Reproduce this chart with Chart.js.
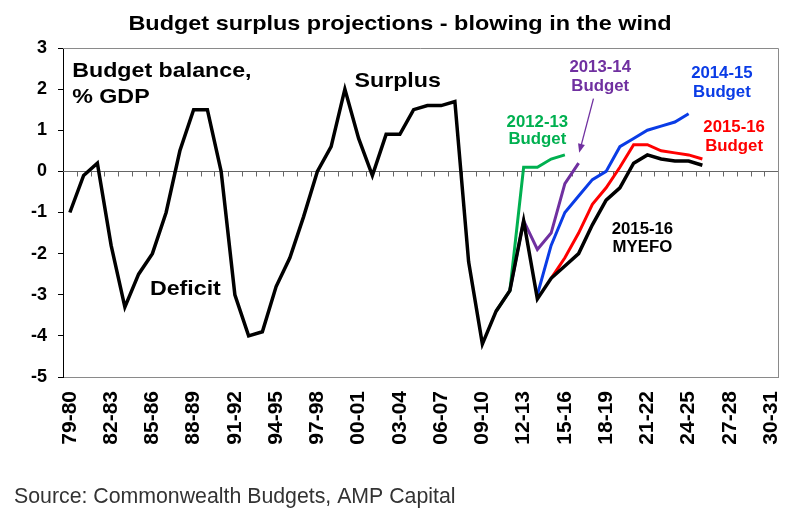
<!DOCTYPE html>
<html>
<head>
<meta charset="utf-8">
<script src="https://cdn.jsdelivr.net/npm/chart.js@4.4.1/dist/chart.umd.min.js"></script>
<style>
html,body{margin:0;padding:0;background:#fff;}
#wrap{width:800px;height:522px;}
</style>
</head>
<body>
<div id="wrap"><canvas id="c" width="800" height="522"></canvas></div>
<script>
// ---------- DATA ----------
const categories = ['79-80','80-81','81-82','82-83','83-84','84-85','85-86','86-87','87-88','88-89',
  '89-90','90-91','91-92','92-93','93-94','94-95','95-96','96-97','97-98','98-99','99-00',
  '00-01','01-02','02-03','03-04','04-05','05-06','06-07','07-08','08-09','09-10','10-11',
  '11-12','12-13','13-14','14-15','15-16','16-17','17-18','18-19','19-20','20-21','21-22',
  '22-23','23-24','24-25','25-26','26-27','27-28','28-29','29-30','30-31'];

// Actual outcomes then 2015-16 MYEFO projections (starts 79-80)
const actualMyefoStart = '79-80';
const actualMyefo = [-1.0,-0.1,0.2,-1.8,-3.3,-2.5,-2.0,-1.0,0.5,1.5,1.5,0.0,-3.0,-4.0,-3.9,-2.8,
  -2.1,-1.1,0.0,0.6,2.0,0.8,-0.1,0.9,0.9,1.5,1.6,1.6,1.7,-2.2,-4.2,-3.4,-2.9,-1.2,-3.1,-2.6,
  -2.3,-2.0,-1.3,-0.7,-0.4,0.2,0.4,0.3,0.25,0.25,0.15];

const budget1213Start = '10-11';
const budget1213 = [-3.4,-2.9,0.1,0.1,0.3,0.4];

const budget1314Start = '11-12';
const budget1314 = [-2.9,-1.2,-1.9,-1.5,-0.3,0.2];

const budget1415Start = '13-14';
const budget1415 = [-3.0,-1.8,-1.0,-0.6,-0.2,0.0,0.6,0.8,1.0,1.1,1.2,1.4];

const budget1516Start = '14-15';
const budget1516 = [-2.6,-2.1,-1.5,-0.8,-0.4,0.1,0.65,0.65,0.5,0.45,0.4,0.3];

const yMin = -5, yMax = 3, yStep = 1;
const xLabelEvery = 3;

// ---------- helpers ----------
function series(start, values) {
  const s = categories.indexOf(start);
  return values.map((v, i) => ({ x: categories[s + i], y: v }));
}

const FONT = '"Liberation Sans", Arial, Helvetica, sans-serif';

function sText(ctx, txt, x, y, size, color, align, weight, sx) {
  ctx.save();
  ctx.font = (weight || 'bold') + ' ' + size + 'px ' + FONT;
  ctx.fillStyle = color;
  ctx.textBaseline = 'alphabetic';
  ctx.textAlign = 'left';
  sx = sx || 1;
  const w = ctx.measureText(txt).width * sx;
  const left = align === 'left' ? x : (align === 'center' ? x - w / 2 : x - w);
  ctx.translate(left, y);
  ctx.scale(sx, 1);
  ctx.fillText(txt, 0, 0);
  ctx.restore();
}

// annotation placements (category index, value) – positioned via the chart scales
const notes = [
  { lines: ['Budget balance,', '% GDP'], cat: 0.17, vals: [2.30, 1.67], color: '#000', align: 'left', size: 20.2, sx: 1.15 },
  { lines: ['Surplus'], cat: 23.84, vals: [2.05], color: '#000', align: 'center', size: 20.2, sx: 1.15 },
  { lines: ['Deficit'], cat: 8.4, vals: [-3.0], color: '#000', align: 'center', size: 20.2, sx: 1.15 },
  { lines: ['2012-13', 'Budget'], cat: 34.0, vals: [1.09, 0.67], color: '#00B050', align: 'center', size: 16.3, sx: 1.03 },
  { lines: ['2013-14', 'Budget'], cat: 38.57, vals: [2.41, 1.96], color: '#7030A0', align: 'center', size: 16.3, sx: 1.03 },
  { lines: ['2014-15', 'Budget'], cat: 47.42, vals: [2.26, 1.80], color: '#0A3CE6', align: 'center', size: 16.3, sx: 1.03 },
  { lines: ['2015-16', 'Budget'], cat: 48.31, vals: [0.95, 0.49], color: '#FF0000', align: 'center', size: 16.3, sx: 1.03 },
  { lines: ['2015-16', 'MYEFO'], cat: 41.64, vals: [-1.52, -1.95], color: '#000', align: 'center', size: 16.3, sx: 1.03 }
];
const arrowNote = { from: [38.08, 1.77], to: [37.04, 0.45], color: '#7030A0' };

const decor = {
  id: 'decor',
  beforeDatasetsDraw(chart) {
    const { ctx, chartArea: a, scales: { x, y } } = chart;
    ctx.save();
    ctx.strokeStyle = '#8a8a8a';
    ctx.lineWidth = 1;
    ctx.beginPath();
    ctx.moveTo(a.left, Math.round(a.top) + 0.5);
    ctx.lineTo(Math.round(a.right) + 0.5, Math.round(a.top) + 0.5);
    ctx.lineTo(Math.round(a.right) + 0.5, a.bottom);
    ctx.stroke();
    const y0 = Math.round(y.getPixelForValue(0)) + 0.5;
    ctx.strokeStyle = '#666';
    ctx.beginPath();
    ctx.moveTo(a.left, y0);
    ctx.lineTo(a.right, y0);
    for (let i = 0; i < categories.length - 1; i++) {
      const xb = Math.round((x.getPixelForValue(i) + x.getPixelForValue(i + 1)) / 2) + 0.5;
      ctx.moveTo(xb, y0);
      ctx.lineTo(xb, y0 + 5);
    }
    ctx.stroke();
    ctx.restore();
  },
  afterDatasetsDraw(chart) {
    const { ctx, scales: { x, y } } = chart;
    const px = c => x.getPixelForValue(0) + c * (x.getPixelForValue(1) - x.getPixelForValue(0));
    notes.forEach(n => {
      n.lines.forEach((t, i) => sText(ctx, t, px(n.cat), y.getPixelForValue(n.vals[i]), n.size, n.color, n.align, 'bold', n.sx));
    });
    const x1 = px(arrowNote.from[0]), y1 = y.getPixelForValue(arrowNote.from[1]);
    const x2 = px(arrowNote.to[0]), y2 = y.getPixelForValue(arrowNote.to[1]);
    const ang = Math.atan2(y2 - y1, x2 - x1);
    ctx.save();
    ctx.strokeStyle = arrowNote.color;
    ctx.fillStyle = arrowNote.color;
    ctx.lineWidth = 1.3;
    ctx.beginPath();
    ctx.moveTo(x1, y1);
    ctx.lineTo(x2 - 6 * Math.cos(ang), y2 - 6 * Math.sin(ang));
    ctx.stroke();
    ctx.beginPath();
    ctx.moveTo(x2, y2);
    ctx.lineTo(x2 - 9 * Math.cos(ang) + 3.5 * Math.sin(ang), y2 - 9 * Math.sin(ang) - 3.5 * Math.cos(ang));
    ctx.lineTo(x2 - 9 * Math.cos(ang) - 3.5 * Math.sin(ang), y2 - 9 * Math.sin(ang) + 3.5 * Math.cos(ang));
    ctx.closePath();
    ctx.fill();
    ctx.restore();
  },
  afterDraw(chart) {
    const { ctx } = chart;
    sText(ctx, 'Budget surplus projections - blowing in the wind', 400, 30, 20.4, '#000', 'center', 'bold', 1.15);
    sText(ctx, 'Source: Commonwealth Budgets, AMP Capital', 14, 503, 21.3, '#333', 'left', 'normal', 1);
  }
};

const ds = (label, data, color, width) => ({
  label, data, borderColor: color, backgroundColor: color, borderWidth: width,
  pointRadius: 0, pointHoverRadius: 0, tension: 0, fill: false, spanGaps: false,
  borderJoinStyle: 'miter', borderCapStyle: 'butt'
});

new Chart(document.getElementById('c'), {
  type: 'line',
  data: {
    labels: categories,
    datasets: [
      ds('Actual / 2015-16 MYEFO', series(actualMyefoStart, actualMyefo), '#000000', 3.5),
      ds('2012-13 Budget', series(budget1213Start, budget1213), '#00B050', 3),
      ds('2013-14 Budget', series(budget1314Start, budget1314), '#7030A0', 3),
      ds('2014-15 Budget', series(budget1415Start, budget1415), '#0A3CE6', 3),
      ds('2015-16 Budget', series(budget1516Start, budget1516), '#FF0000', 3)
    ]
  },
  options: {
    responsive: false,
    animation: false,
    devicePixelRatio: 1,
    layout: { padding: { top: 48, right: 22, left: 0, bottom: 0 } },
    plugins: { legend: { display: false }, title: { display: false }, tooltip: { enabled: false } },
    scales: {
      x: {
        type: 'category',
        offset: true,
        grid: { display: false, drawTicks: false },
        border: { display: true, color: '#8a8a8a', width: 1 },
        ticks: {
          autoSkip: false,
          minRotation: 90,
          maxRotation: 90,
          padding: 14,
          color: '#000',
          font: { family: FONT, size: 21, weight: 'bold' },
          callback: function (v, i) { return i % xLabelEvery === 0 ? categories[i] : ''; }
        },
        afterFit: s => { s.height = 145; s.paddingLeft = 0; s.paddingRight = 0; }
      },
      y: {
        min: yMin, max: yMax,
        grid: { drawOnChartArea: false, drawTicks: true, tickLength: 5, color: '#000' },
        border: { display: true, color: '#000', width: 1 },
        ticks: {
          stepSize: yStep,
          padding: 11,
          color: '#000',
          font: { family: FONT, size: 18, weight: 'bold' }
        },
        afterFit: s => { s.width = 63; s.paddingTop = 0; s.paddingBottom = 0; }
      }
    }
  },
  plugins: [decor]
});
</script>
</body>
</html>
